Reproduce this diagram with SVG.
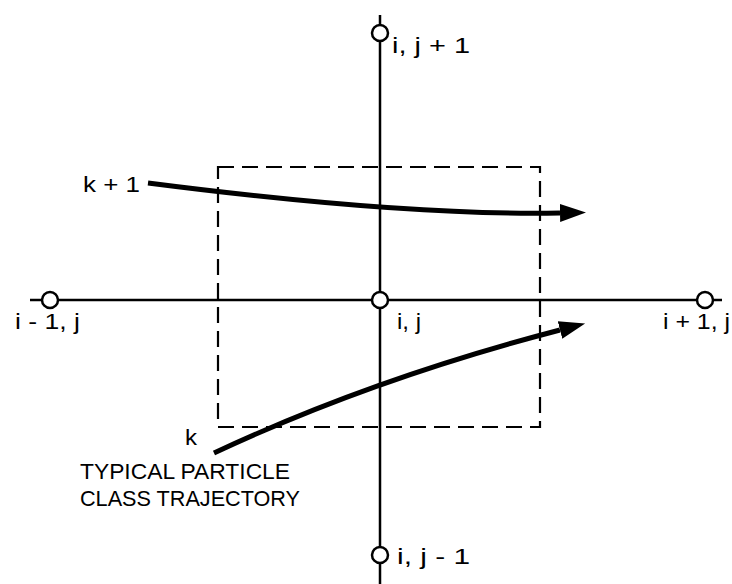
<svg xmlns="http://www.w3.org/2000/svg" width="732" height="584" viewBox="0 0 732 584">
<style>
.ax{stroke:#000;stroke-width:2.5;fill:none}
.nd{fill:#fff;stroke:#000;stroke-width:2.5}
.box{fill:none;stroke:#000;stroke-width:2.2;stroke-dasharray:16 8}
.tr{fill:none;stroke:#000;stroke-width:5}
text{font-family:"Liberation Sans",Arial,sans-serif;font-size:22px;fill:#000}
</style>
<defs>
<marker id="ah" markerUnits="userSpaceOnUse" markerWidth="30" markerHeight="22" refX="0" refY="0" viewBox="0 -11 30 22" orient="auto">
<path d="M0,-9 L26,0 L0,9 z" fill="#000"/>
</marker>
</defs>
<g id="connectors">
<line class="ax" x1="380" y1="15" x2="380" y2="584"/>
<line class="ax" x1="30" y1="300" x2="722" y2="300"/>
<rect class="box" x="218" y="167" width="322" height="260"/>
<path class="tr" d="M148,183 Q405,216 560,213" marker-end="url(#ah)"/>
<path class="tr" d="M214,453 Q372,379 560,330" marker-end="url(#ah)"/>
</g>
<g id="n_top"><circle class="nd" cx="380" cy="33" r="8"/><text x="392" y="53" textLength="78" lengthAdjust="spacingAndGlyphs">i, j + 1</text></g>
<g id="n_center"><circle class="nd" cx="380" cy="300" r="8"/><text x="397" y="329" textLength="24" lengthAdjust="spacingAndGlyphs">i, j</text></g>
<g id="n_left"><circle class="nd" cx="50" cy="300" r="8"/><text x="15" y="329" textLength="65" lengthAdjust="spacingAndGlyphs">i - 1, j</text></g>
<g id="n_right"><circle class="nd" cx="705" cy="300" r="8"/><text x="663" y="329" textLength="67" lengthAdjust="spacingAndGlyphs">i + 1, j</text></g>
<g id="n_bottom"><circle class="nd" cx="380" cy="555" r="8"/><text x="397" y="564" textLength="73" lengthAdjust="spacingAndGlyphs">i, j - 1</text></g>
<g id="labels">
<text x="83" y="192" textLength="57" lengthAdjust="spacingAndGlyphs">k + 1</text>
<text x="185" y="445" textLength="12" lengthAdjust="spacingAndGlyphs">k</text>
<text x="80" y="479" textLength="210" lengthAdjust="spacingAndGlyphs">TYPICAL PARTICLE</text>
<text x="80" y="506" textLength="220" lengthAdjust="spacingAndGlyphs">CLASS TRAJECTORY</text>
</g>
</svg>
